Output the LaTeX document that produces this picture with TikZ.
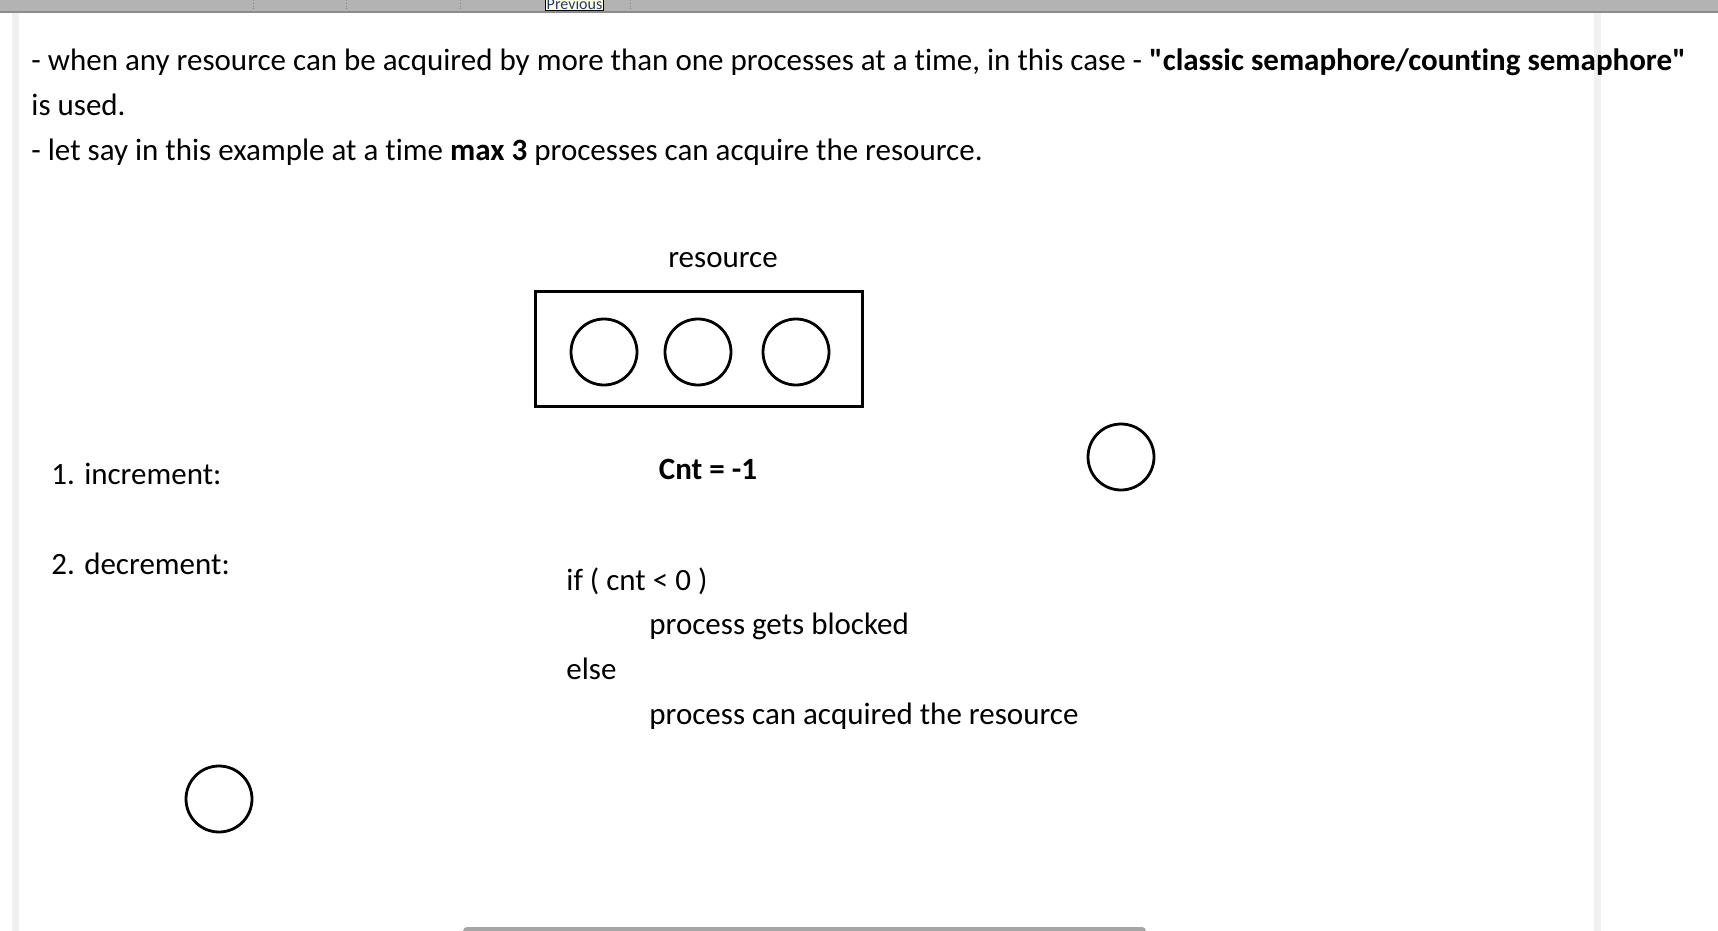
\documentclass[tikz,border=0pt]{standalone}
\usepackage{fontspec}
\setmainfont{Carlito}[Ligatures={TeXOff,NoCommon}]
\definecolor{bargray}{HTML}{B3B3B3}
\definecolor{bardark}{HTML}{8C8C8C}
\definecolor{stripgray}{HTML}{F0F0F0}
\definecolor{scrollgray}{HTML}{A6A6A6}
\definecolor{tipyellow}{HTML}{FFFFE1}
\definecolor{tipblue}{HTML}{1F3A6E}
\begin{document}
\begin{tikzpicture}[x=0.5pt,y=-0.5pt,
  txt/.style={anchor=base west,inner sep=0pt,font=\fontsize{15.5}{18}\selectfont},
  slot/.style={circle,draw=black,line width=1.4pt,minimum size=33pt,inner sep=0pt}]
\useasboundingbox (0,0) rectangle (1718,931);
\fill[white] (0,0) rectangle (1718,931);
% window chrome
\fill[bargray] (0,0) rectangle (1718,12);
\draw[bardark,line width=0.8pt] (0,12) -- (1718,12);
\foreach \xx in {253,346,460,630}{\draw[bardark,densely dotted,line width=0.4pt] (\xx,0) -- (\xx,12);}
\fill[stripgray] (12,13) rectangle (19,931);
\fill[stripgray] (1594,13) rectangle (1601,931);
\fill[scrollgray,rounded corners=2pt] (463,927) rectangle (1146,935);
\node[draw=black,fill=tipyellow,text=tipblue,line width=0.5pt,inner sep=0.5pt,minimum width=29pt,minimum height=6pt,font=\fontsize{8}{8}\selectfont,anchor=south] (tip) at (574.5,11) {Previous};
% text
\node[txt] (l1) at (31,71) {- when any resource can be acquired by more than one processes at a time, in this case - \textbf{"classic semaphore/counting semaphore"}};
\node[txt] (l2) at (31,116) {is used.};
\node[txt] (l3) at (31,161) {- let say in this example at a time \textbf{max 3} processes can acquire the resource.};
\node[txt,anchor=base] (res) at (723,267) {resource};
\node[draw=black,line width=1.5pt,minimum width=163.5pt,minimum height=57.5pt,inner sep=0pt] (box) at (698.5,348.5) {};
\node[slot] (c1) at (604,352) {};
\node[slot] (c2) at (698,352) {};
\node[slot] (c3) at (796,352) {};
\node[txt,anchor=base,font=\fontsize{15.5}{18}\selectfont\bfseries] (cnt) at (708,479) {Cnt = -1};
\node[slot] (c4) at (1121,457) {};
\node[slot] (c5) at (219,799) {};
\node[txt] (inc) at (51,484) {1. increment:};
\node[txt] (dec) at (51,574) {2. decrement:};
\node[txt] (if) at (566,590) {if ( cnt < 0 )};
\node[txt] (blk) at (649,634) {process gets blocked};
\node[txt] (else) at (566,679) {else};
\node[txt] (acq) at (649,724) {process can acquired the resource};
\end{tikzpicture}
\end{document}
